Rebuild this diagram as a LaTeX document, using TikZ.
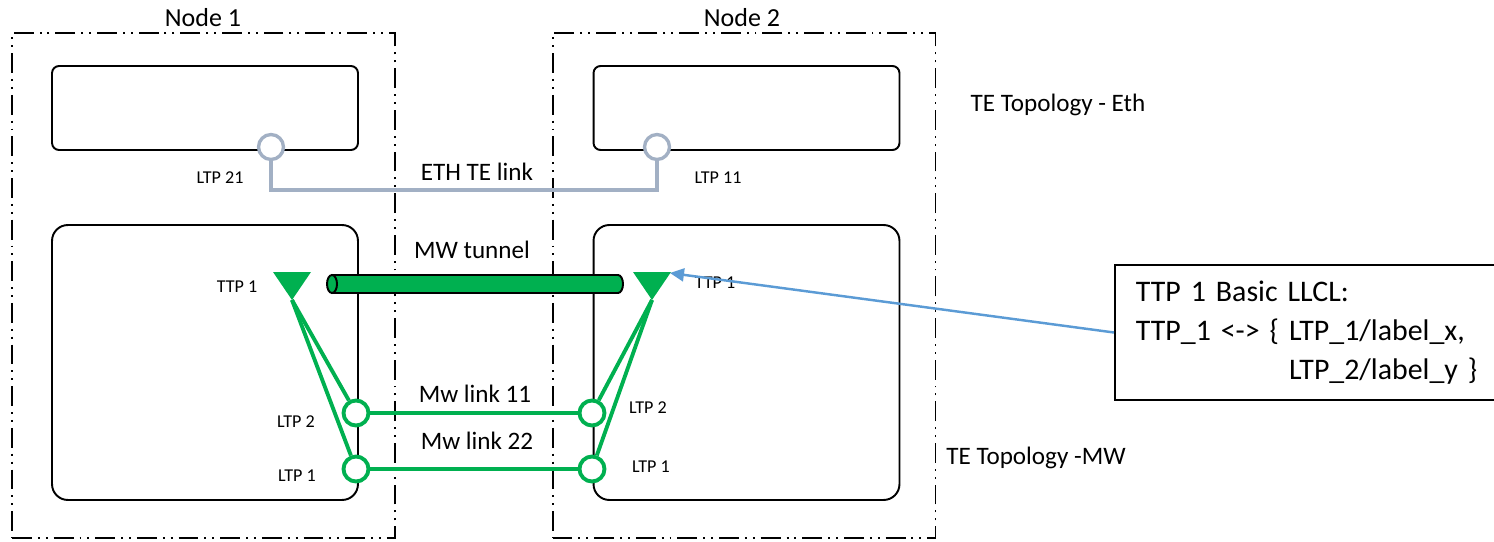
\documentclass[tikz,border=0pt]{standalone}
\usepackage{fontspec}
\setmainfont{Carlito}
\usetikzlibrary{arrows.meta}
\definecolor{mwgreen}{HTML}{00B050}
\definecolor{ethgrey}{HTML}{A2B0C4}
\definecolor{linkblue}{HTML}{5B9BD5}

\tikzset{
  nodebox/.style={draw, line width=1.1pt, minimum width=7.66cm, minimum height=10.1cm,
    dash pattern=on 11.3pt off 3.4pt on 1.1pt off 3.4pt on 1.1pt off 3.4pt},
  ethbox/.style={draw, line width=1.1pt, rounded corners=4pt, minimum width=6.12cm, minimum height=1.68cm},
  mwbox/.style={draw, line width=1.1pt, rounded corners=9pt, minimum width=6.12cm, minimum height=5.5cm},
  ethltp/.style={circle, draw=ethgrey, fill=white, line width=1.9pt, minimum size=0.5cm, inner sep=0pt},
  mwltp/.style={circle, draw=mwgreen, fill=white, line width=2.2pt, minimum size=0.5cm, inner sep=0pt},
  ethline/.style={draw=ethgrey, line width=2.2pt},
  mwline/.style={draw=mwgreen, line width=2.2pt},
  tunnelpipe/.style={draw, line width=1.1pt, fill=mwgreen},
  biglbl/.style={font=\fontsize{14.8}{17}\selectfont, inner sep=1pt},
  midlbl/.style={font=\fontsize{14.3}{17}\selectfont, inner sep=1pt},
  smalllbl/.style={font=\fontsize{10.3}{12}\selectfont, inner sep=1pt},
}

\begin{document}
\begin{tikzpicture}[x=0.02cm, y=-0.02cm]
	\useasboundingbox (0,0) rectangle (1494,541);
	% network elements
	\node[nodebox] (node1) at (203.5,285.5) {};
	\node[nodebox] (node2) at (744,285.5) {};
	\node[biglbl] (node1lbl) at (203,18) {Node 1};
	\node[biglbl] (node2lbl) at (742,18) {Node 2};
	% eth layer
	\node[ethbox] (eth1) at (205,108) {};
	\node[ethbox] (eth2) at (746.5,108) {};
	\node[ethltp] (ltp21) at (271,147) {};
	\node[ethltp] (ltp11) at (657,147) {};
	\coordinate (ethbus) at (470,190);
	\draw[ethline] (ltp21) -- (ltp21 |- ethbus) -- (ltp11 |- ethbus) -- (ltp11);
	\node[smalllbl] (ltp21lbl) at (220,178) {LTP 21};
	\node[smalllbl] (ltp11lbl) at (718,178) {LTP 11};
	\node[midlbl] (ethlinklbl) at (477,172) {ETH TE link};
	\node[midlbl] (ethtopo) at (1058,105) {TE Topology - Eth};
	% mw layer
	\node[mwbox] (mw1) at (205,362.5) {};
	\node[mwbox] (mw2) at (746.5,362.5) {};
	\node[midlbl] (tunnellbl) at (472,250) {MW tunnel};
	% tunnel pipe
	\draw[tunnelpipe] (332,275) -- (618,275) arc[start angle=-90, end angle=90, x radius=5, y radius=9]
		-- (332,293) -- cycle;
	\draw[tunnelpipe] (332,284) ellipse[x radius=5, y radius=9];
	\coordinate (ttp1) at (292,300);
	\coordinate (ttp2) at (652,300);
	\fill[mwgreen] (ttp1) -- ++(-19,-28) -- ++(38,0) -- cycle;
	\fill[mwgreen] (ttp2) -- ++(-19,-28) -- ++(38,0) -- cycle;
	\coordinate (ttp2tip) at (670,273);
	\node[smalllbl] (ttp1lbl) at (237,287) {TTP 1};
	\node[smalllbl] (ttp2lbl) at (715,283) {TTP 1};
	\node[mwltp] (ltp2a) at (356,413) {};
	\node[mwltp] (ltp1a) at (356,469) {};
	\node[mwltp] (ltp2b) at (592,413) {};
	\node[mwltp] (ltp1b) at (592,469) {};
	\draw[mwline] (ttp1) -- (ltp2a);
	\draw[mwline] (ttp1) -- (ltp1a);
	\draw[mwline] (ttp2) -- (ltp2b);
	\draw[mwline] (ttp2) -- (ltp1b);
	\draw[mwline] (ltp2a) -- (ltp2b);
	\draw[mwline] (ltp1a) -- (ltp1b);
	\node[midlbl] (mw11lbl) at (475,394) {Mw link 11};
	\node[midlbl] (mw22lbl) at (477,441) {Mw link 22};
	\node[smalllbl] (ltp2albl) at (296,422) {LTP 2};
	\node[smalllbl] (ltp1albl) at (297,476) {LTP 1};
	\node[smalllbl] (ltp2blbl) at (648,408) {LTP 2};
	\node[smalllbl] (ltp1blbl) at (651,467) {LTP 1};
	\node[midlbl] (mwtopo) at (1036,458) {TE Topology -MW};
	% llcl callout
	\node[draw, line width=1.1pt, anchor=west, minimum width=8.2cm, minimum height=2.7cm,
	      text width=7.36cm, inner xsep=0.42cm, align=left,
	      font=\fontsize{17}{22}\selectfont] (callout) at (1114,332.5)
	      {TTP 1 Basic LLCL:\\
	       TTP\_1 <-> \{ LTP\_1/label\_x,\\
	       \phantom{TTP\_1 <-> \{ }LTP\_2/label\_y \}};
	\draw[linkblue, line width=1.4pt, -{Triangle[length=0.28cm,width=0.26cm]}] (callout.west) -- (ttp2tip);
\end{tikzpicture}
\end{document}
